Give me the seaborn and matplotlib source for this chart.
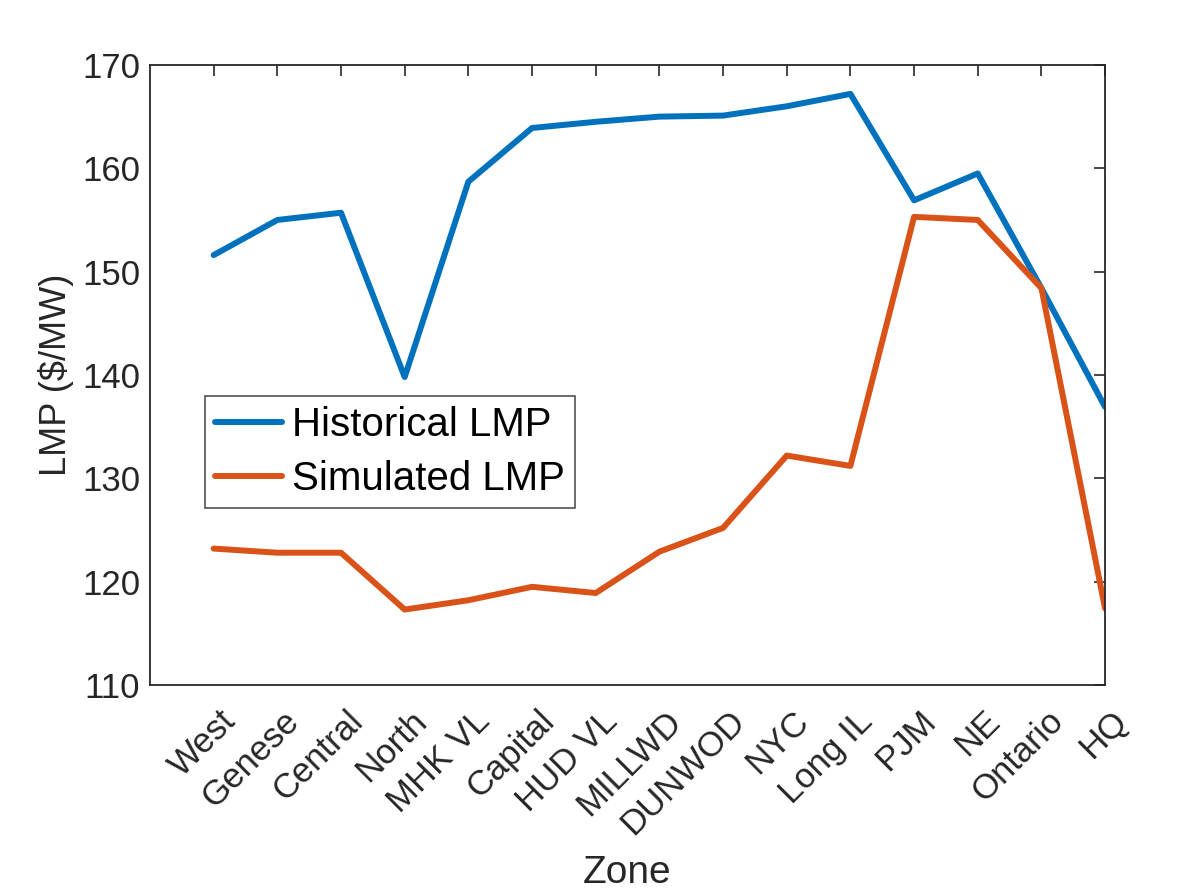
import matplotlib
matplotlib.use("Agg")
import matplotlib.pyplot as plt
import matplotlib.transforms as mtransforms
import seaborn as sns
import pandas as pd
import numpy as np

zones = ["West", "Genese", "Central", "North", "MHK VL", "Capital", "HUD VL",
         "MILLWD", "DUNWOD", "NYC", "Long IL", "PJM", "NE", "Ontario", "HQ"]
historical = [151.6, 155.0, 155.7, 139.8, 158.7, 163.9, 164.5, 165.0, 165.1,
              166.0, 167.2, 156.9, 159.5, 148.4, 136.9]
simulated = [123.2, 122.8, 122.8, 117.3, 118.2, 119.5, 118.9, 122.9, 125.2,
             132.2, 131.2, 155.3, 155.0, 148.4, 117.4]
series_names = ["Historical LMP", "Simulated LMP"]
colors = ["#0072BD", "#D95319"]

sns.set_theme(style="white")
plt.rcParams['font.family'] = ['Liberation Sans', 'DejaVu Sans']

pos = np.arange(1, len(zones) + 1)
df = pd.DataFrame({
    "pos": np.concatenate([pos, pos]),
    "value": historical + simulated,
    "series": [series_names[0]] * len(zones) + [series_names[1]] * len(zones),
})

fig = plt.figure(figsize=(11.96, 8.96), dpi=100)
ax = fig.add_axes([0.1254, 0.2355, 0.7986, 0.692])
sns.lineplot(data=df, x="pos", y="value", hue="series", palette=colors,
             linewidth=4.3, ax=ax, sort=False)

ax.set_xlim(0, 15)
ax.set_ylim(110, 170)
ax.set_yticks(np.arange(110, 171, 10))
ax.set_xticks(pos)
ax.set_xticklabels(zones, rotation=45, ha="right", va="top",
                   rotation_mode="anchor", fontsize=25)
ax.tick_params(axis="both", direction="in", length=8, width=1.2,
               top=True, right=True, colors="#262626")
ax.tick_params(axis="y", labelsize=25, pad=7)
ax.tick_params(axis="x", pad=14)
offset = mtransforms.ScaledTranslation(5 / 100, 0, fig.dpi_scale_trans)
for lbl in ax.get_xticklabels():
    lbl.set_transform(lbl.get_transform() + offset)
for lbl in ax.get_xticklabels() + ax.get_yticklabels():
    lbl.set_color("#262626")
for s in ax.spines.values():
    s.set_color("#262626")
    s.set_linewidth(1.3)

ax.set_xlabel("Zone", fontsize=28, color="#262626", labelpad=10)
ax.set_ylabel("LMP ($/MW)", fontsize=26, color="#262626", labelpad=6)

leg = ax.legend(loc="lower left", bbox_to_anchor=(0.0576, 0.2855),
                borderaxespad=0, fontsize=29, frameon=True, fancybox=False,
                handlelength=1.65, handletextpad=0.25, borderpad=0.25,
                labelspacing=0.4)
leg.get_frame().set_edgecolor("#262626")
leg.get_frame().set_linewidth(1.2)
for t in leg.get_texts():
    t.set_color("black")

fig.savefig("out.png", dpi=100, facecolor="white")
